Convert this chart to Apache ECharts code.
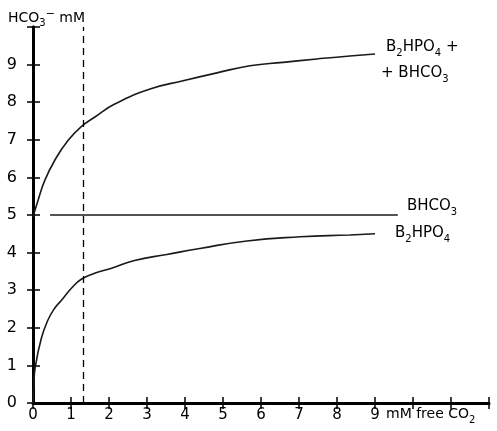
<!DOCTYPE html>
<html>
<head>
<meta charset="utf-8">
<script src="https://cdn.jsdelivr.net/npm/echarts@6/dist/echarts.min.js"></script>
<style>
  html, body { margin: 0; padding: 0; background: #fff; }
  #chart { width: 497px; height: 431px; }
</style>
</head>
<body>
<div id="chart"></div>
<script>
// 读图得到的数据 (mM free CO2 -> HCO3- mM)
var co2Sum = [0, 0.13, 0.31, 0.57, 0.92, 1.27, 1.62, 2.15, 3.08, 3.95, 4.84, 5.71, 6.58, 7.47, 8.34, 9.0];
var hco3Sum = [4.95, 5.38, 5.92, 6.45, 6.98, 7.35, 7.6, 7.95, 8.35, 8.57, 8.78, 8.97, 9.06, 9.15, 9.23, 9.28];

var co2Bic = [0.45, 9.6];
var hco3Bic = [5.0, 5.0];

var co2Phos = [0, 0.02, 0.06, 0.22, 0.39, 0.57, 0.75, 1.01, 1.27, 1.62, 2.05, 2.67, 3.52, 4.39, 5.63, 7.03, 8.34, 9.0];
var hco3Phos = [0, 0.45, 0.96, 1.72, 2.2, 2.52, 2.73, 3.05, 3.29, 3.45, 3.58, 3.79, 3.95, 4.11, 4.31, 4.42, 4.47, 4.5];

var normalCO2 = 1.32;
var xLabels = ['0', '1', '2', '3', '4', '5', '6', '7', '8', '9'];
var yLabels = ['0', '1', '2', '3', '4', '5', '6', '7', '8', '9'];

function pairs(xs, ys) {
    return xs.map(function (x, i) { return [x, ys[i]]; });
}

var font = 'DejaVu Sans';
var myChart = echarts.init(document.getElementById('chart'));

var lineStyle = { color: '#1a1a1a', width: 1.6 };

var option = {
    backgroundColor: '#fff',
    animation: false,
    grid: { left: 33, right: 8, top: 27, bottom: 28 },
    xAxis: [{
        type: 'value', min: 0, max: 12, interval: 1, position: 'bottom',
        axisLine: { lineStyle: { color: '#000', width: 3 } },
        axisTick: { inside: true, length: 6, lineStyle: { color: '#000', width: 1.5 } },
        splitLine: { show: false },
        axisLabel: {
            color: '#000', fontFamily: font, fontSize: 15, margin: 5,
            formatter: function (v) { return xLabels[v] !== undefined ? xLabels[v] : ''; }
        }
    }, {
        type: 'value', min: 0, max: 12, interval: 1, position: 'top',
        axisLine: { lineStyle: { color: '#000', width: 2 } },
        axisTick: { inside: true, length: 6, lineStyle: { color: '#000', width: 1.5 } },
        splitLine: { show: false },
        axisLabel: { show: false }
    }],
    yAxis: [{
        type: 'value', min: 0, max: 10, interval: 1, position: 'left',
        axisLine: { show: true, lineStyle: { color: '#000', width: 3 } },
        axisTick: { show: true, inside: true, length: 7, lineStyle: { color: '#000', width: 1.5 } },
        splitLine: { show: false },
        axisLabel: {
            color: '#000', fontFamily: font, fontSize: 16, margin: 16,
            formatter: function (v) { return yLabels[v] !== undefined ? yLabels[v] : ''; }
        }
    }, {
        type: 'value', min: 0, max: 10, interval: 1, position: 'right',
        axisLine: { show: true, lineStyle: { color: '#000', width: 3 } },
        axisTick: { show: true, inside: true, length: 6, lineStyle: { color: '#000', width: 1.5 } },
        splitLine: { show: false },
        axisLabel: { show: false }
    }],
    series: [{
        name: 'B2HPO4 + BHCO3',
        type: 'line',
        data: pairs(co2Sum, hco3Sum),
        smooth: 0.5,
        showSymbol: false,
        lineStyle: lineStyle,
        markLine: {
            silent: true,
            symbol: 'none',
            label: { show: false },
            lineStyle: { color: '#000', type: [7, 5], width: 1.3 },
            data: [{ xAxis: normalCO2 }]
        }
    }, {
        name: 'BHCO3',
        type: 'line',
        data: pairs(co2Bic, hco3Bic),
        showSymbol: false,
        lineStyle: lineStyle
    }, {
        name: 'B2HPO4',
        type: 'line',
        data: pairs(co2Phos, hco3Phos),
        smooth: 0.5,
        showSymbol: false,
        lineStyle: lineStyle
    }],
    graphic: [{
        type: 'text', left: 8, top: 9,
        style: {
            text: 'HCO{sub|3}{sup|−} mM',
            font: '14px ' + font, fill: '#000',
            rich: {
                sub: { fontSize: 10, verticalAlign: 'bottom', padding: [6, 0, 0, 0], fill: '#000', fontFamily: font },
                sup: { fontSize: 11, padding: [0, 0, 8, 0], fill: '#000', fontFamily: font }
            }
        }
    }, {
        type: 'text', left: 386, top: 40,
        style: {
            text: 'B{sub|2}HPO{sub|4} +',
            font: '15px ' + font, fill: '#000',
            rich: { sub: { fontSize: 10, padding: [12, 0, 0, 0], fill: '#000', fontFamily: font } }
        }
    }, {
        type: 'text', left: 381, top: 66,
        style: {
            text: '+ BHCO{sub|3}',
            font: '15px ' + font, fill: '#000',
            rich: { sub: { fontSize: 10, padding: [12, 0, 0, 0], fill: '#000', fontFamily: font } }
        }
    }, {
        type: 'text', left: 407, top: 199,
        style: {
            text: 'BHCO{sub|3}',
            font: '15px ' + font, fill: '#000',
            rich: { sub: { fontSize: 10, padding: [12, 0, 0, 0], fill: '#000', fontFamily: font } }
        }
    }, {
        type: 'text', left: 395, top: 226,
        style: {
            text: 'B{sub|2}HPO{sub|4}',
            font: '15px ' + font, fill: '#000',
            rich: { sub: { fontSize: 10, padding: [12, 0, 0, 0], fill: '#000', fontFamily: font } }
        }
    }, {
        type: 'text', left: 386, top: 407,
        style: {
            text: 'mM free CO{sub|2}',
            font: '14px ' + font, fill: '#000',
            rich: { sub: { fontSize: 10, padding: [12, 0, 0, 0], fill: '#000', fontFamily: font } }
        }
    }]
};

myChart.setOption(option);
</script>
</body>
</html>
